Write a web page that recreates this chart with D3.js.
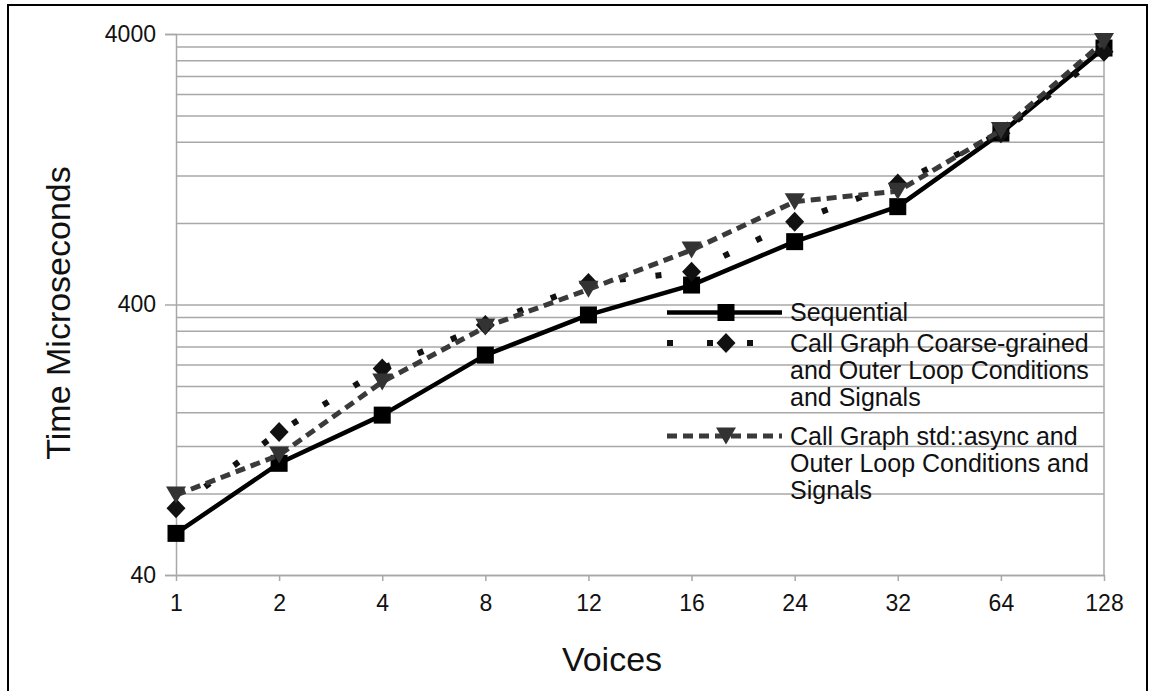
<!DOCTYPE html>
<html>
<head>
<meta charset="utf-8">
<script src="https://cdn.jsdelivr.net/npm/d3@7"></script>
<style>
  html, body { margin: 0; padding: 0; background: #fff; }
  svg { display: block; font-family: "Liberation Sans", Arial, sans-serif; }
</style>
</head>
<body>
<svg id="chart" width="1152" height="691"></svg>
<script>
// Voice counts on the x axis
const categories = ["1", "2", "4", "8", "12", "16", "24", "32", "64", "128"];

// Run time in microseconds for each implementation
const sequential    = [57, 103.5, 156, 260, 366, 472, 683, 920, 1720, 3550];
const coarseGrained = [70.6, 135, 232, 336, 480, 529, 809, 1120, 1720, 3440];
const stdAsync      = [79, 111, 207, 330, 455, 636, 960, 1050, 1760, 3750];

// Axis labels and gridlines
const yTickLabels = [40, 400, 4000];
const yGridValues = [40, 80, 120, 160, 200, 240, 280, 320, 360, 400,
                     800, 1200, 1600, 2000, 2400, 2800, 3200, 3600, 4000];

const seriesNames = [
  ["Sequential"],
  ["Call Graph Coarse-grained", "and Outer Loop Conditions", "and Signals"],
  ["Call Graph std::async and", "Outer Loop Conditions and", "Signals"]
];

const svg = d3.select("#chart");
const plot = { left: 176, right: 1104, top: 34, bottom: 575 };

// Outer frame
svg.append("rect")
  .attr("x", 8).attr("y", 5)
  .attr("width", 1139).attr("height", 700)
  .attr("fill", "none").attr("stroke", "#000").attr("stroke-width", 2);

const x = d3.scalePoint().domain(categories).range([plot.left, plot.right]);
const y = d3.scaleLog().domain([40, 4000]).range([plot.bottom, plot.top]);

const gridColor = "#a8a8a8";
const textColor = "#111";

// Horizontal gridlines
svg.append("g")
  .attr("transform", `translate(${plot.left},0)`)
  .call(d3.axisLeft(y).tickValues(yGridValues).tickSize(-(plot.right - plot.left)).tickFormat(""))
  .call(g => g.select(".domain").remove())
  .call(g => g.selectAll("line").attr("stroke", gridColor).attr("stroke-width", 1.5));

// Right border of plot area
svg.append("line")
  .attr("x1", plot.right).attr("x2", plot.right)
  .attr("y1", plot.top).attr("y2", plot.bottom)
  .attr("stroke", gridColor).attr("stroke-width", 1.5);

// Y axis
svg.append("g")
  .attr("transform", `translate(${plot.left},0)`)
  .call(d3.axisLeft(y).tickValues(yTickLabels).tickSize(11).tickPadding(9).tickFormat(d3.format("d")))
  .call(g => g.select(".domain").attr("stroke", gridColor).attr("stroke-width", 1.5))
  .call(g => g.selectAll("line").attr("stroke", gridColor).attr("stroke-width", 1.5))
  .call(g => g.selectAll("text").attr("font-size", 23).attr("fill", textColor)
    .attr("font-family", "Liberation Sans, Arial, sans-serif"));

// X axis
svg.append("g")
  .attr("transform", `translate(0,${plot.bottom})`)
  .call(d3.axisBottom(x).tickSize(6).tickPadding(14).tickSizeOuter(0))
  .call(g => g.select(".domain").attr("stroke", gridColor).attr("stroke-width", 1.5))
  .call(g => g.selectAll("line").attr("stroke", gridColor).attr("stroke-width", 1.5))
  .call(g => g.selectAll("text").attr("font-size", 23).attr("fill", textColor)
    .attr("font-family", "Liberation Sans, Arial, sans-serif"));

// Axis titles
svg.append("text")
  .attr("transform", "translate(70,313) rotate(-90)")
  .attr("text-anchor", "middle")
  .attr("font-size", 34).attr("fill", textColor)
  .text("Time Microseconds");

svg.append("text")
  .attr("x", 612).attr("y", 671)
  .attr("text-anchor", "middle")
  .attr("font-size", 34).attr("fill", textColor)
  .text("Voices");

// Marker shapes
const diamondType = {
  draw(ctx) {
    const w = 9.5, h = 10;
    ctx.moveTo(0, -h); ctx.lineTo(w, 0); ctx.lineTo(0, h); ctx.lineTo(-w, 0); ctx.closePath();
  }
};
const triangleDownType = {
  draw(ctx) {
    const w = 10, h = 8.5;
    ctx.moveTo(-w, -h); ctx.lineTo(w, -h); ctx.lineTo(0, h); ctx.closePath();
  }
};

const series = [
  { values: sequential, color: "#000", width: 4.5, dash: null, legendDash: null,
    symbol: d3.symbol().type(d3.symbolSquare).size(289), markColor: "#000" },
  { values: coarseGrained, color: "#111", width: 6, dash: "6,30", legendDash: "6,34",
    symbol: d3.symbol().type(diamondType), markColor: "#111" },
  { values: stdAsync, color: "#3a3a3a", width: 5, dash: "10,6", legendDash: "10,6",
    symbol: d3.symbol().type(triangleDownType), markColor: "#333" }
];

const line = d3.line()
  .x((d, i) => x(categories[i]))
  .y(d => y(d));

series.forEach(s => {
  svg.append("path")
    .datum(s.values)
    .attr("d", line)
    .attr("fill", "none")
    .attr("stroke", s.color)
    .attr("stroke-width", s.width)
    .attr("stroke-dasharray", s.dash)
    .attr("stroke-linejoin", "round");
  svg.append("g").selectAll("path")
    .data(s.values)
    .join("path")
    .attr("transform", (d, i) => `translate(${x(categories[i])},${y(d)})`)
    .attr("d", s.symbol())
    .attr("fill", s.markColor);
});

// Legend
const legendRows = [312.5, 343, 436];
const lineGap = 27;
const legend = svg.append("g");
series.forEach((s, k) => {
  const ly = legendRows[k];
  legend.append("line")
    .attr("x1", 667).attr("x2", 782)
    .attr("y1", ly).attr("y2", ly)
    .attr("stroke", s.color)
    .attr("stroke-width", s.width)
    .attr("stroke-dasharray", s.legendDash);
  legend.append("path")
    .attr("transform", `translate(726,${ly})`)
    .attr("d", s.symbol())
    .attr("fill", s.markColor);
  seriesNames[k].forEach((t, j) => {
    legend.append("text")
      .attr("x", 790).attr("y", ly + j * lineGap)
      .attr("dy", "0.35em")
      .attr("font-size", 25).attr("fill", textColor)
      .text(t);
  });
});
</script>
</body>
</html>
